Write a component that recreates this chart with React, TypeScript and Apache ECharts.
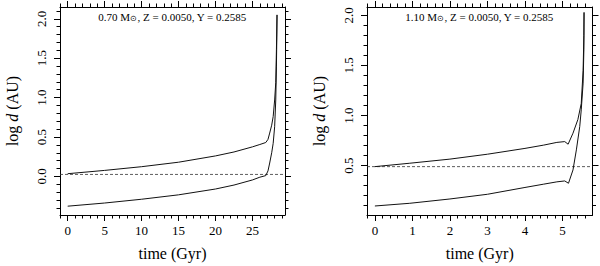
import React, { useEffect, useRef } from "react";
import * as echarts from "echarts";

// ---- data ----
const leftTitle = "0.70 M{sub|⊙}, Z = 0.0050, Y = 0.2585";
const rightTitle = "1.10 M{sub|⊙}, Z = 0.0050, Y = 0.2585";

const leftUpperT = [0, 5, 10, 15, 20, 22.5, 25, 26.0, 26.8, 27.1, 27.33, 27.6, 27.8, 28.0, 28.15, 28.24, 28.32];
const leftUpperY = [0.034, 0.076, 0.123, 0.18, 0.26, 0.31, 0.375, 0.405, 0.43, 0.47, 0.55, 0.65, 0.76, 0.97, 1.19, 1.61, 2.05];
const leftLowerT = [0, 5, 10, 15, 20, 22.5, 25, 26.0, 26.8, 27.1, 27.33, 27.6, 27.8, 28.0, 28.15, 28.24, 28.3, 28.32];
const leftLowerY = [-0.378, -0.338, -0.29, -0.234, -0.16, -0.11, -0.045, -0.01, 0.01, 0.07, 0.17, 0.3, 0.42, 0.63, 0.97, 1.4, 1.82, 2.05];
const leftRef = 0.025;

const rightUpperT = [0, 0.93, 2, 3, 4, 4.5, 4.85, 5.06, 5.15, 5.28, 5.41, 5.5, 5.55, 5.57, 5.575];
const rightUpperY = [0.49, 0.524, 0.565, 0.614, 0.672, 0.705, 0.732, 0.74, 0.714, 0.824, 0.96, 1.12, 1.45, 1.8, 2.03];
const rightLowerT = [0, 0.93, 2, 3, 4, 4.5, 4.85, 5.06, 5.16, 5.28, 5.37, 5.46, 5.5, 5.55, 5.57, 5.575];
const rightLowerY = [0.097, 0.124, 0.167, 0.214, 0.282, 0.315, 0.338, 0.347, 0.324, 0.457, 0.657, 0.89, 1.057, 1.324, 1.657, 2.03];
const rightRef = 0.49;

const leftXTicks = [0, 5, 10, 15, 20, 25];
const leftYTicks = [0, 0.5, 1, 1.5, 2];
const rightXTicks = [0, 1, 2, 3, 4, 5];
const rightYTicks = [0.5, 1, 1.5, 2];

const leftXRange = [-1.04, 29.4];
const leftYRange = [-0.49, 2.15];
const rightXRange = [-0.21, 5.8];
const rightYRange = [0.007, 2.084];

const FONT = "Liberation Serif";

function zip(a: number[], b: number[]) {
  return a.map((v, i) => [v, b[i]]);
}

function xAxisDef(grid: number, range: number[], ticks: number[], top: boolean) {
  return {
    type: "value",
    gridIndex: grid,
    position: top ? "top" : "bottom",
    min: range[0],
    max: range[1],
    axisLine: { show: true, onZero: false, lineStyle: { color: "#000", width: 1 } },
    axisTick: { show: true, inside: false, length: 6, customValues: ticks, lineStyle: { color: "#000" } },
    minorTick: { show: true, splitNumber: 5, length: 3.5, lineStyle: { color: "#000" } },
    splitLine: { show: false },
    minorSplitLine: { show: false },
    axisLabel: top
      ? { show: false }
      : {
          show: true,
          customValues: ticks,
          margin: 9,
          fontFamily: FONT,
          fontSize: 13,
          color: "#000",
          formatter: (v: number) => String(Math.round(v)),
        },
    name: top ? "" : "time (Gyr)",
    nameLocation: "middle",
    nameGap: 30,
    nameTextStyle: { fontFamily: FONT, fontSize: 16, color: "#000" },
  };
}

function yAxisDef(grid: number, range: number[], ticks: number[], right: boolean) {
  return {
    type: "value",
    gridIndex: grid,
    position: right ? "right" : "left",
    min: range[0],
    max: range[1],
    axisLine: { show: true, onZero: false, lineStyle: { color: "#000", width: 1 } },
    axisTick: { show: true, inside: false, length: 6, customValues: ticks, lineStyle: { color: "#000" } },
    minorTick: { show: true, splitNumber: 5, length: 3.5, lineStyle: { color: "#000" } },
    splitLine: { show: false },
    minorSplitLine: { show: false },
    axisLabel: right
      ? { show: false }
      : {
          show: true,
          customValues: ticks,
          rotate: 90,
          margin: 12,
          fontFamily: FONT,
          fontSize: 13,
          color: "#000",
          formatter: (v: number) => v.toFixed(1),
        },
    name: right ? "" : "log {i|d} (AU)",
    nameLocation: "middle",
    nameGap: 40,
    nameTextStyle: {
      fontFamily: FONT,
      fontSize: 16,
      color: "#000",
      rich: { i: { fontFamily: FONT, fontSize: 16, fontStyle: "italic", color: "#000" } },
    },
  };
}

function lineSeries(xi: number, yi: number, data: number[][], dashed = false) {
  return {
    type: "line",
    xAxisIndex: xi,
    yAxisIndex: yi,
    data,
    showSymbol: false,
    symbol: "none",
    smooth: false,
    clip: true,
    lineStyle: dashed
      ? { color: "#333", width: 0.8, type: [3, 2] }
      : { color: "#111", width: 1 },
    silent: true,
  };
}

export default function App() {
  const ref = useRef<HTMLDivElement>(null);
  useEffect(() => {
    if (!ref.current) return;
    const chart = echarts.init(ref.current, null, { renderer: "svg" });
    const titleRich = {
      sub: { fontFamily: FONT, fontSize: 8, fill: "#000", verticalAlign: "bottom", padding: [4, 0, 0, 0] },
    };
    chart.setOption({
      animation: false,
      backgroundColor: "#fff",
      textStyle: { fontFamily: FONT },
      grid: [
        { left: 60, top: 7, width: 225, height: 208, containLabel: false },
        { left: 367, top: 7, width: 225.5, height: 208, containLabel: false },
      ],
      xAxis: [
        xAxisDef(0, leftXRange, leftXTicks, false),
        xAxisDef(0, leftXRange, leftXTicks, true),
        xAxisDef(1, rightXRange, rightXTicks, false),
        xAxisDef(1, rightXRange, rightXTicks, true),
      ],
      yAxis: [
        yAxisDef(0, leftYRange, leftYTicks, false),
        yAxisDef(0, leftYRange, leftYTicks, true),
        yAxisDef(1, rightYRange, rightYTicks, false),
        yAxisDef(1, rightYRange, rightYTicks, true),
      ],
      series: [
        lineSeries(0, 0, [[leftXRange[0], leftRef], [leftXRange[1], leftRef]], true),
        lineSeries(0, 0, zip(leftUpperT, leftUpperY)),
        lineSeries(0, 0, zip(leftLowerT, leftLowerY)),
        lineSeries(2, 2, [[rightXRange[0], rightRef], [rightXRange[1], rightRef]], true),
        lineSeries(2, 2, zip(rightUpperT, rightUpperY)),
        lineSeries(2, 2, zip(rightLowerT, rightLowerY)),
      ],
      graphic: [
        {
          type: "text",
          x: 172.5,
          y: 16.5,
          style: {
            text: leftTitle,
            rich: titleRich,
            fontFamily: FONT,
            fontSize: 11,
            fill: "#000",
            align: "center",
            verticalAlign: "middle",
          },
        },
        {
          type: "text",
          x: 479.5,
          y: 16.5,
          style: {
            text: rightTitle,
            rich: titleRich,
            fontFamily: FONT,
            fontSize: 11,
            fill: "#000",
            align: "center",
            verticalAlign: "middle",
          },
        },
      ],
    });
    return () => chart.dispose();
  }, []);
  return <div ref={ref} style={{ width: 600, height: 266, position: "absolute", left: 0, top: 0 }} />;
}
